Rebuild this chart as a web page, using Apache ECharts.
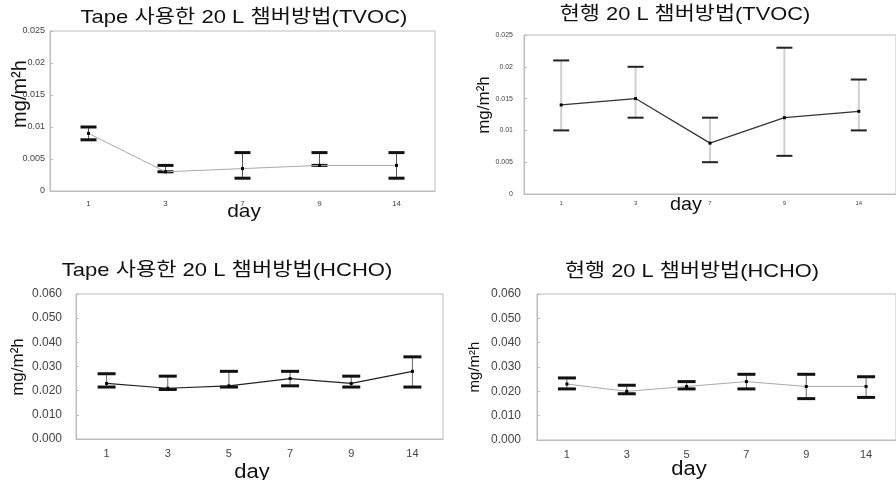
<!DOCTYPE html>
<html><head><meta charset="utf-8">
<script src="https://cdn.jsdelivr.net/npm/echarts@6/dist/echarts.min.js"></script>
<style>html,body{margin:0;padding:0;background:#fff}#c{width:896px;height:480px}</style>
</head><body><div id="c"></div>
<script>
// ---- data ----
const tvocDays = ['1', '3', '7', '9', '14'];
const hchoDays = ['1', '3', '5', '7', '9', '14'];

const tapeTvocMean  = [0.009, 0.003, 0.0035, 0.004, 0.004];
const tapeTvocUpper = [0.010, 0.004, 0.006, 0.006, 0.006];
const tapeTvocLower = [0.008, 0.003, 0.002, 0.004, 0.002];

const curTvocMean  = [0.014, 0.015, 0.008, 0.012, 0.013];
const curTvocUpper = [0.021, 0.020, 0.012, 0.023, 0.018];
const curTvocLower = [0.010, 0.012, 0.005, 0.006, 0.010];

const tapeHchoMean  = [0.023, 0.021, 0.022, 0.025, 0.023, 0.028];
const tapeHchoUpper = [0.027, 0.026, 0.028, 0.028, 0.026, 0.034];
const tapeHchoLower = [0.0215, 0.0205, 0.0215, 0.022, 0.0215, 0.0215];

const curHchoMean  = [0.023, 0.020, 0.022, 0.024, 0.022, 0.022];
const curHchoUpper = [0.0255, 0.0225, 0.024, 0.027, 0.027, 0.026];
const curHchoLower = [0.021, 0.019, 0.021, 0.021, 0.017, 0.0175];

const tvocTicks = ['0', '0.005', '0.01', '0.015', '0.02', '0.025'];
const hchoTicks = ['0.000', '0.010', '0.020', '0.030', '0.040', '0.050', '0.060'];

const titles = ['Tape 사용한 20 L 챔버방법(TVOC)', '현행 20 L 챔버방법(TVOC)',
                'Tape 사용한 20 L 챔버방법(HCHO)', '현행 20 L 챔버방법(HCHO)'];
const xName = 'day';
const yName = 'mg/m²h';

// ---- chart ----
const FONT = "'Liberation Sans', 'Noto Sans CJK KR', sans-serif";
const chart = echarts.init(document.getElementById('c'));

const grids = [
  {left: 50, top: 31, width: 385, height: 160},
  {left: 524, top: 35, width: 379, height: 159},
  {left: 76, top: 294, width: 367, height: 145},
  {left: 537, top: 294, width: 368, height: 146}
];

const panels = [
  {cats: tvocDays, mean: tapeTvocMean, up: tapeTvocUpper, lo: tapeTvocLower, ticks: tvocTicks, max: 0.025, step: 0.005,
   yLab: {size: 9, margin: 5}, xLab: {size: 8, margin: 9},
   line: {color: '#aaaaaa', width: 1}, err: {stem: '#555', stemW: 1, cap: '#111', capW: 3, half: 8}},
  {cats: tvocDays, mean: curTvocMean, up: curTvocUpper, lo: curTvocLower, ticks: tvocTicks, max: 0.025, step: 0.005,
   yLab: {size: 7, margin: 11}, xLab: {size: 6, margin: 6},
   line: {color: '#333333', width: 1.2}, err: {stem: '#d0d0d0', stemW: 2, cap: '#222', capW: 2, half: 8}},
  {cats: hchoDays, mean: tapeHchoMean, up: tapeHchoUpper, lo: tapeHchoLower, ticks: hchoTicks, max: 0.06, step: 0.01,
   yLab: {size: 12, margin: 14}, xLab: {size: 11, margin: 9},
   line: {color: '#222222', width: 1.2}, err: {stem: '#666', stemW: 1, cap: '#111', capW: 3, half: 9}},
  {cats: hchoDays, mean: curHchoMean, up: curHchoUpper, lo: curHchoLower, ticks: hchoTicks, max: 0.06, step: 0.01,
   yLab: {size: 12, margin: 16}, xLab: {size: 11, margin: 9},
   line: {color: '#aaaaaa', width: 1}, err: {stem: '#666', stemW: 1, cap: '#111', capW: 3, half: 9}}
];

function errRender(st) {
  return function (params, api) {
    const x = api.value(0);
    const pHi = api.coord([x, api.value(1)]);
    const pLo = api.coord([x, api.value(2)]);
    const h = st.half;
    return {
      type: 'group',
      children: [
        {type: 'line', shape: {x1: pHi[0], y1: pHi[1], x2: pLo[0], y2: pLo[1]}, style: {stroke: st.stem, lineWidth: st.stemW}},
        {type: 'line', shape: {x1: pHi[0] - h, y1: pHi[1], x2: pHi[0] + h, y2: pHi[1]}, style: {stroke: st.cap, lineWidth: st.capW}},
        {type: 'line', shape: {x1: pLo[0] - h, y1: pLo[1], x2: pLo[0] + h, y2: pLo[1]}, style: {stroke: st.cap, lineWidth: st.capW}}
      ]
    };
  };
}

const AX = '#bdbdbd';
const xAxis = [], yAxis = [], series = [];
panels.forEach((p, i) => {
  xAxis.push({
    type: 'category', gridIndex: i, data: p.cats, boundaryGap: true,
    axisLine: {lineStyle: {color: AX}},
    axisTick: {inside: true, length: 3, lineStyle: {color: AX}},
    axisLabel: {fontFamily: FONT, fontSize: p.xLab.size, color: '#444', margin: p.xLab.margin}
  });
  yAxis.push({
    type: 'value', gridIndex: i, min: 0, max: p.max, interval: p.step,
    splitLine: {show: false},
    axisLine: {show: true, lineStyle: {color: AX}},
    axisTick: {show: true, inside: true, length: 3, lineStyle: {color: AX}},
    axisLabel: {fontFamily: FONT, fontSize: p.yLab.size, color: '#444', margin: p.yLab.margin,
      formatter: v => p.ticks[Math.round(v / p.step)]}
  });
  series.push({
    type: 'custom', xAxisIndex: i, yAxisIndex: i, z: 2,
    renderItem: errRender(p.err),
    encode: {x: 0, y: [1, 2]},
    data: p.cats.map((c, k) => [k, p.up[k], p.lo[k]])
  });
  series.push({
    type: 'line', xAxisIndex: i, yAxisIndex: i, z: 3,
    data: p.mean, symbol: 'rect', symbolSize: 3,
    itemStyle: {color: '#000'},
    lineStyle: {color: p.line.color, width: p.line.width},
    animation: false
  });
});

function txt(text, x, y, size, rot, sx) {
  return {type: 'text', x: x, y: y, rotation: rot || 0, scaleX: sx || 1, silent: true,
    style: {text: text, font: size + 'px ' + FONT, fill: '#111', align: 'center', verticalAlign: 'middle'}};
}

const graphic = [
  txt(titles[0], 244, 18, 19, 0, 1.16), txt(titles[1], 685, 15, 19, 0, 1.15),
  txt(titles[2], 227, 271, 19, 0, 1.16), txt(titles[3], 692, 272, 19, 0, 1.15),
  txt(xName, 244, 212, 19, 0, 1.1), txt(xName, 686, 205, 18, 0, 1.1),
  txt(xName, 252, 472, 20, 0, 1.1), txt(xName, 689, 469, 20, 0, 1.1),
  txt(yName, 20, 94, 20, Math.PI / 2), txt(yName, 484, 105, 17, Math.PI / 2),
  txt(yName, 18, 367, 17, Math.PI / 2), txt(yName, 475, 367, 15, Math.PI / 2)
];

chart.setOption({
  animation: false,
  grid: grids.map(g => Object.assign({show: true, borderColor: AX, borderWidth: 1, containLabel: false}, g)),
  xAxis: xAxis, yAxis: yAxis, series: series, graphic: graphic
});
</script></body></html>
